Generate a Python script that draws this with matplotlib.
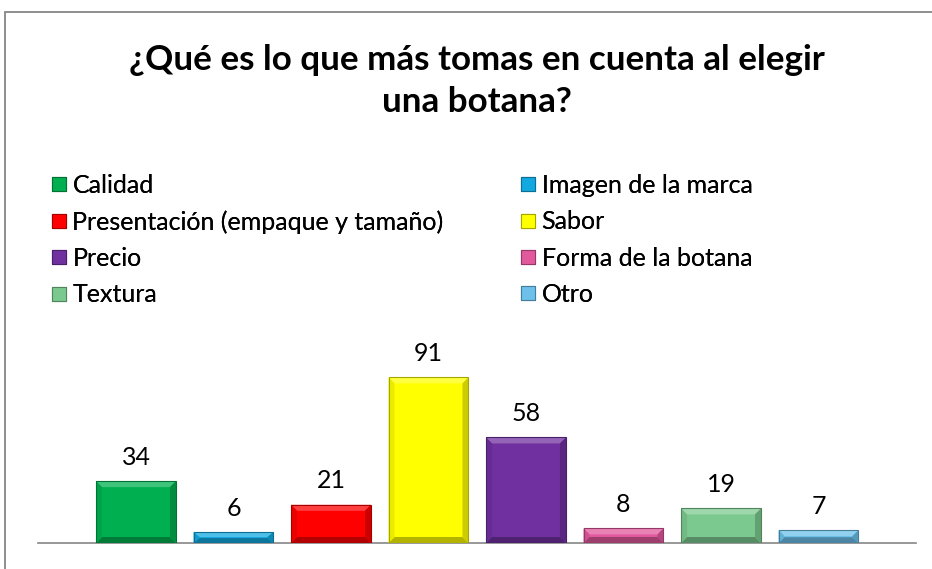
import numpy as np
import matplotlib.pyplot as plt
from matplotlib.patches import Polygon, Rectangle
from matplotlib.lines import Line2D
import matplotlib.colors as mcolors

title = "¿Qué es lo que más tomas en cuenta al elegir\nuna botana?"
categories = ["Calidad", "Imagen de la marca", "Presentación (empaque y tamaño)", "Sabor",
              "Precio", "Forma de la botana", "Textura", "Otro"]
values = [34, 6, 21, 91, 58, 8, 19, 7]
colors = ["#00B050", "#13A9E0", "#FF0000", "#FFFF00", "#7030A0", "#E2589C", "#7CC98F", "#6CC0EA"]

W, H = 932, 569
plt.rcParams['font.family'] = ['Lato', 'DejaVu Sans']

fig = plt.figure(figsize=(W / 100, H / 100), dpi=100)
fig.patches.append(Rectangle((5 / W, -0.1), 1.2, 1 - 12 / H + 0.1, transform=fig.transFigure,
                             fill=False, edgecolor="#868686", linewidth=1.3))

left, right, base = 38, 916, 543
ylim_top = 100
px_per_unit = 1.82
ax_h = ylim_top * px_per_unit
ax = fig.add_axes([left / W, 1 - base / H, (right - left) / W, ax_h / H])
ax.set_xlim(-1.005, 8.0)
ax.set_ylim(0, ylim_top)

x = np.arange(len(values))
bw = 0.82
bars = ax.bar(x, values, width=bw, color=colors, edgecolor="none", zorder=2)


def shade(c, f):
    r, g, b = mcolors.to_rgb(c)
    if f >= 0:
        return (r + (1 - r) * f, g + (1 - g) * f, b + (1 - b) * f)
    return (r * (1 + f), g * (1 + f), b * (1 + f))


# bevel effect
bx = 6 / 97.5
by_full = 6 / px_per_unit
for rect, c in zip(bars, colors):
    x0, x1 = rect.get_x(), rect.get_x() + rect.get_width()
    y1 = rect.get_height()
    by = min(by_full, y1 / 2.2)
    polys = [
        ([(x0, y1), (x1, y1), (x1 - bx, y1 - by), (x0 + bx, y1 - by)], shade(c, 0.25)),
        ([(x0, 0), (x1, 0), (x1 - bx, by), (x0 + bx, by)], shade(c, -0.3)),
        ([(x0, 0), (x0, y1), (x0 + bx, y1 - by), (x0 + bx, by)], shade(c, -0.08)),
        ([(x1, 0), (x1, y1), (x1 - bx, y1 - by), (x1 - bx, by)], shade(c, -0.2)),
    ]
    for pts, fc in polys:
        ax.add_patch(Polygon(pts, closed=True, facecolor=fc, edgecolor="none", zorder=3))
    ax.add_patch(Rectangle((x0, 0), x1 - x0, y1, fill=False, edgecolor=shade(c, -0.35),
                           linewidth=0.8, zorder=4))
    ax.annotate(str(int(y1)), (rect.get_x() + rect.get_width() / 2, y1), xytext=(0, 9),
                textcoords="offset points", ha="center", va="bottom", fontsize=18,
                color="black", clip_on=False)

for s in ["top", "right", "left"]:
    ax.spines[s].set_visible(False)
ax.spines["bottom"].set_color("#868686")
ax.spines["bottom"].set_linewidth(1.2)
ax.set_xticks([])
ax.set_yticks([])
ax.patch.set_alpha(0)

fig.text(477 / W, 1 - 81 / H, title, ha="center", va="center", fontsize=25.2, fontweight="bold",
         linespacing=1.42)


def handle(c):
    return Line2D([], [], marker="s", linestyle="none", markersize=10, markerfacecolor=c,
                  markeredgecolor=shade(c, -0.35), markeredgewidth=0.8)


order_cols = [[0, 2, 4, 6], [1, 3, 5, 7]]
for col, xpos in zip(order_cols, [50, 519]):
    leg = fig.legend([handle(colors[i]) for i in col], [categories[i] for i in col],
                     loc="upper left", bbox_to_anchor=(xpos / W, 1 - 174 / H), frameon=False,
                     fontsize=18, handlelength=0.7, handletextpad=0.2, labelspacing=0.53,
                     borderaxespad=0, borderpad=0)
    fig.add_artist(leg)

fig.savefig("out.png", dpi=100)
